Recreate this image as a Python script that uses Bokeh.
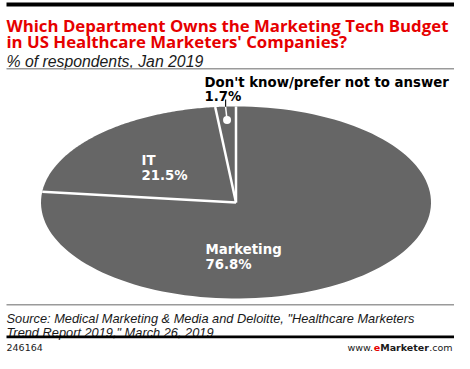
import numpy as np
from bokeh.plotting import figure
from bokeh.models import Range1d
from bokeh.core.properties import value
from bokeh.embed import file_html
from bokeh.resources import INLINE

# ---- data ----
categories = ["Marketing", "IT", "Don't know/prefer not to answer"]
shares = [76.8, 21.5, 1.7]
title_lines = ["Which Department Owns the Marketing Tech Budget",
               "in US Healthcare Marketers' Companies?"]
subtitle = "% of respondents, Jan 2019"
source_lines = ['Source: Medical Marketing & Media and Deloitte, "Healthcare Marketers',
                'Trend Report 2019," March 26, 2019']
chart_id = "246164"

# ---- figure: data space = picture pixels ----
W, H = 454, 353
p = figure(width=W, height=H, x_range=Range1d(0, W), y_range=Range1d(H, 0),
           output_backend="svg", toolbar_location=None, min_border=0,
           x_axis_type=None, y_axis_type=None, title=None)
p.grid.visible = False
p.outline_line_color = None
p.background_fill_color = "white"
p.border_fill_color = "white"

RED = "#e60000"
GRAY = "#666666"
INK = "#1a1a1a"
L, R = 6, 454

# header text
p.text(x=[L, L], y=[25, 41], text=title_lines, text_font=value("Open Sans"),
       text_font_style="bold", text_font_size="16.8px", text_color=RED,
       text_baseline="alphabetic")
p.text(x=[L], y=[61], text=[subtitle], text_font=value("Liberation Sans"),
       text_font_style="italic", text_font_size="15.8px", text_color=INK,
       text_baseline="alphabetic")

# ---- elliptical pie ----
cx, cy, rx, ry = 235.5, 202, 195, 96
fr = np.cumsum([0] + shares) / sum(shares)
angles = 2 * np.pi * fr
xs, ys = [], []
for a0, a1 in zip(angles[:-1], angles[1:]):
    t = np.linspace(a0, a1, 120)
    xs.append(np.concatenate([[cx], cx + rx * np.sin(t), [cx]]))
    ys.append(np.concatenate([[cy], cy - ry * np.cos(t), [cy]]))
p.patches(xs=xs, ys=ys, fill_color=GRAY, line_color=None)

bx = cx + rx * np.sin(angles[:-1])
by = cy - ry * np.cos(angles[:-1])
p.segment(x0=[cx] * len(bx), y0=[cy] * len(bx), x1=bx, y1=by,
          line_color="white", line_width=2.5)

# small-slice marker and leader
mid = (angles[2] + angles[3]) / 2
dx, dy = cx + 0.86 * rx * np.sin(mid), cy - 0.86 * ry * np.cos(mid)
ex, ey = cx + rx * np.sin(mid), cy - ry * np.cos(mid)
p.segment(x0=[dx], y0=[dy], x1=[ex], y1=[ey], line_color="white", line_width=1.5)
p.segment(x0=[ex], y0=[ey], x1=[ex], y1=[99], line_color=INK, line_width=1.2)
p.scatter(x=[dx], y=[dy], size=8, fill_color="white", line_color=None)

# slice labels
lab_font = value("DejaVu Sans")
p.text(x=[205, 141, 204], y=[249, 159.7, 81.5], text=categories, text_font=lab_font,
       text_font_style="bold", text_font_size="13.3px",
       text_color=["white", "white", "black"], text_baseline="alphabetic")
p.text(x=[205, 141, 204], y=[263.5, 174.7, 95.7], text=[f"{v}%" for v in shares],
       text_font=lab_font, text_font_style="bold", text_font_size="13.3px",
       text_color=["white", "white", "black"], text_baseline="alphabetic")

# footer text
p.text(x=[L, L], y=[318, 331.5], text=source_lines, text_font=value("Liberation Sans"),
       text_font_style="italic", text_font_size="12.8px", text_color=INK,
       text_baseline="alphabetic")
fy = 346.5
p.text(x=[L], y=[fy], text=[chart_id], text_font=value("DejaVu Sans"),
       text_font_size="9.5px", text_color=INK, text_baseline="alphabetic")
fx = 347.0
p.text(x=[fx], y=[fy], text=["www."], text_font=value("DejaVu Sans"),
       text_font_size="9.5px", text_color=INK, text_baseline="alphabetic")
p.text(x=[fx + 26.3], y=[fy], text=["e"], text_font=value("DejaVu Sans"),
       text_font_style="bold", text_font_size="9.5px", text_color=RED, text_baseline="alphabetic")
p.text(x=[fx + 32.7], y=[fy], text=["Marketer"], text_font=value("DejaVu Sans"),
       text_font_style="bold", text_font_size="9.5px", text_color=INK, text_baseline="alphabetic")
p.text(x=[fx + 81.7], y=[fy], text=[".com"], text_font=value("DejaVu Sans"),
       text_font_size="9.5px", text_color=INK, text_baseline="alphabetic")

# horizontal rules, drawn last
p.quad(left=[L, L, L, L], right=[R, R, R, R], top=[2, 67.5, 303.5, 335],
       bottom=[6, 69, 305, 337.8],
       fill_color=["black", "#9a9a9a", "#9a9a9a", "black"], line_color=None)

open("out.html", "w").write(file_html(p, INLINE))
